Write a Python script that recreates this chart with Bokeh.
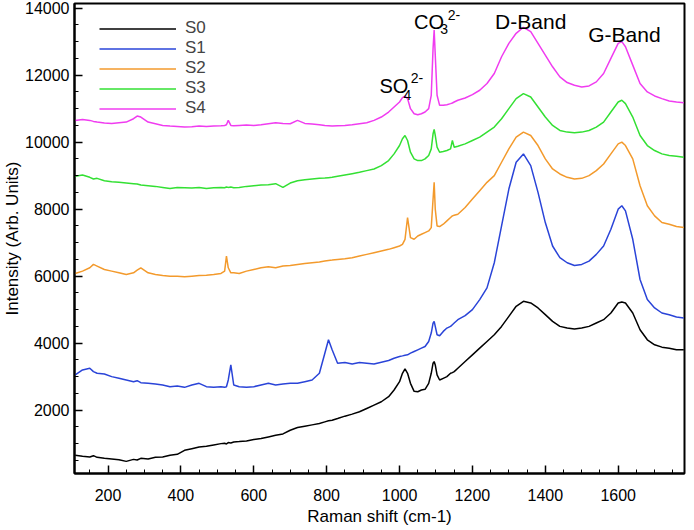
from bokeh.plotting import figure
from bokeh.models import Range1d, SingleIntervalTicker, Legend, LegendItem, Label
from bokeh.embed import file_html
from bokeh.resources import INLINE

# Raman shift (cm-1)
shift = [110,130,150,160,170,190,210,230,250,270,280,290,310,330,350,370,390,410,430,450,
         470,490,510,520,525,530,537,545,560,580,600,620,640,660,680,700,720,740,760,780,
         795,805,815,830,850,870,890,910,930,950,970,985,1000,1008,1015,1022,1030,1040,1050,1060,
         1070,1080,1087,1092,1095,1098,1103,1110,1120,1130,1140,1145,1150,1160,1180,1200,1220,1240,1260,1280,
         1300,1320,1340,1360,1380,1400,1420,1440,1460,1480,1500,1520,1540,1560,1580,1600,1610,1620,1640,1660,
         1680,1700,1720,1740,1760,1780]

s0 = [650,620,600,640,590,560,540,520,470,530,510,560,540,590,600,650,680,800,850,900,
      920,960,1000,1010,990,1030,1020,1050,1060,1080,1120,1150,1200,1250,1290,1400,1480,1520,1560,1600,
      1650,1680,1700,1750,1820,1880,1950,2050,2150,2250,2400,2600,2850,3100,3230,3100,2800,2560,2550,2600,
      2620,2800,3100,3400,3450,3350,3050,2900,2950,3000,3100,3120,3150,3250,3450,3650,3850,4050,4250,4500,
      4800,5100,5250,5200,5050,4850,4650,4500,4450,4420,4450,4500,4600,4700,4900,5200,5230,5200,4900,4400,
      4100,3950,3880,3850,3800,3800]

s1 = [3050,3200,3250,3150,3100,3080,3000,2950,2900,2850,2880,2820,2800,2780,2750,2700,2720,2680,2750,2800,
      2700,2680,2700,2680,2700,2900,3350,2750,2700,2680,2700,2750,2800,2750,2780,2800,2800,2850,2900,3100,
      3700,4100,3800,3400,3420,3380,3420,3400,3380,3430,3480,3550,3600,3620,3640,3650,3700,3750,3800,3850,
      3900,4050,4300,4600,4650,4500,4250,4220,4350,4450,4500,4550,4600,4700,4820,5000,5300,5650,6400,7500,
      8600,9400,9650,9300,8500,7600,6900,6550,6400,6320,6350,6450,6650,6900,7400,8000,8100,7950,7100,5900,
      5300,5050,4900,4850,4780,4750]

s2 = [6080,6150,6250,6350,6300,6200,6150,6100,6050,6100,6180,6250,6100,6050,6020,6000,6000,5980,6000,6020,
      6030,6050,6080,6150,6600,6250,6100,6100,6080,6150,6200,6250,6280,6250,6300,6320,6350,6380,6400,6420,
      6450,6470,6480,6500,6520,6550,6600,6650,6700,6750,6800,6850,6900,6950,7100,7750,7150,7100,7200,7250,
      7300,7350,7450,8300,8800,8000,7500,7480,7550,7650,7750,7800,7820,7850,8050,8300,8550,8800,9000,9400,
      9800,10150,10300,10200,9900,9500,9200,9050,8950,8900,8920,9000,9150,9350,9650,9950,10000,9900,9500,8700,
      8100,7800,7600,7550,7480,7450]

s3 = [8980,9020,8950,8900,8920,8850,8820,8800,8780,8760,8750,8720,8700,8680,8650,8620,8650,8640,8630,8650,
      8620,8640,8650,8640,8660,8650,8660,8640,8650,8680,8700,8720,8730,8760,8650,8780,8850,8880,8900,8920,
      8930,8940,8950,8980,9020,9060,9100,9150,9200,9300,9450,9650,9900,10100,10200,10050,9700,9500,9450,9450,
      9500,9600,9800,10250,10380,10200,9850,9700,9720,9750,9800,10050,9850,9880,9950,10050,10150,10300,10450,10700,
      11000,11300,11450,11350,11050,10750,10500,10350,10300,10280,10300,10350,10450,10600,10900,11200,11250,11150,10750,10200,
      9900,9750,9650,9600,9580,9550]

s4 = [10650,10680,10650,10620,10600,10570,10560,10580,10600,10700,10780,10750,10600,10550,10500,10480,10470,10450,10460,10480,
      10470,10480,10490,10500,10520,10650,10500,10490,10500,10510,10500,10520,10550,10580,10560,10550,10650,10560,10540,10520,
      10500,10490,10480,10490,10500,10520,10550,10580,10650,10750,10900,11050,11200,11330,11370,11300,11000,10850,10820,10850,
      10900,11000,11400,12800,13350,12600,11400,11100,11100,11120,11150,11170,11200,11250,11320,11420,11550,11750,12050,12550,
      12950,13250,13430,13300,12950,12600,12250,11950,11780,11700,11650,11680,11800,12050,12500,12950,13000,12850,12300,11750,
      11500,11380,11300,11230,11200,11180]

series_names = ["S0", "S1", "S2", "S3", "S4"]
series_values = [s0, s1, s2, s3, s4]
series_colors = ["#000000", "#2a44d8", "#f39a2c", "#33e033", "#f03cf0"]

FONT = "Liberation Sans"

p = figure(width=686, height=528,
           min_border_left=64, min_border_right=2, min_border_top=3, min_border_bottom=50,
           output_backend="svg", toolbar_location=None,
           x_range=Range1d(108, 1782), y_range=Range1d(108, 14140))

p.grid.visible = False
p.outline_line_color = "black"
p.outline_line_width = 2
p.outline_line_alpha = 1

items = []
for name, vals, col in zip(series_names, series_values, series_colors):
    r = p.line(shift, vals, line_color=col, line_width=1.5)
    items.append(LegendItem(label=name, renderers=[r]))

legend = Legend(items=items, location=(25, 355), margin=0, padding=0, spacing=0,
                glyph_width=77, glyph_height=19, label_height=19, label_standoff=9,
                label_text_font=FONT, label_text_font_size="17px",
                border_line_color=None, background_fill_alpha=0)
p.add_layout(legend)

p.xaxis.ticker = SingleIntervalTicker(interval=200, num_minor_ticks=4)
p.yaxis.ticker = SingleIntervalTicker(interval=2000, num_minor_ticks=4)
for ax in (p.xaxis, p.yaxis):
    ax.axis_line_width = 2
    ax.major_tick_in = 8
    ax.major_tick_out = 0
    ax.minor_tick_in = 4
    ax.minor_tick_out = 0
    ax.major_tick_line_width = 1.5
    ax.minor_tick_line_width = 1
    ax.major_label_text_font = FONT
    ax.major_label_text_font_size = "16px"
    ax.major_label_text_color = "black"
    ax.axis_label_text_font = FONT
    ax.axis_label_text_font_style = "normal"
    ax.axis_label_text_font_size = "17px"
    ax.axis_label_text_color = "black"

p.xaxis.axis_label = "Raman shift (cm-1)"
p.xaxis.major_label_standoff = 15
p.xaxis.axis_label_standoff = 3
p.yaxis.axis_label = "Intensity (Arb. Units)"
p.yaxis.major_label_standoff = 5
p.yaxis.axis_label_standoff = 0

def add_text(x, y, t, size, align="left"):
    p.add_layout(Label(x=x, y=y, text=t, text_font=FONT, text_font_size=size,
                       text_align=align, text_baseline="alphabetic", text_color="black"))

# SO4 2-
add_text(945, 11665, "SO", "20px")
add_text(1011, 11399, "4", "14px")
add_text(1031, 11901, "2-", "14px")
# CO3 2-
add_text(1040, 13595, "CO", "20px")
add_text(1112, 13379, "3", "14px")
add_text(1132, 13793, "2-", "14px")
# Bands
add_text(1360, 13595, "D-Band", "21px", "center")
add_text(1617, 13202, "G-Band", "21px", "center")

open("out.html", "w").write(file_html(p, INLINE))
